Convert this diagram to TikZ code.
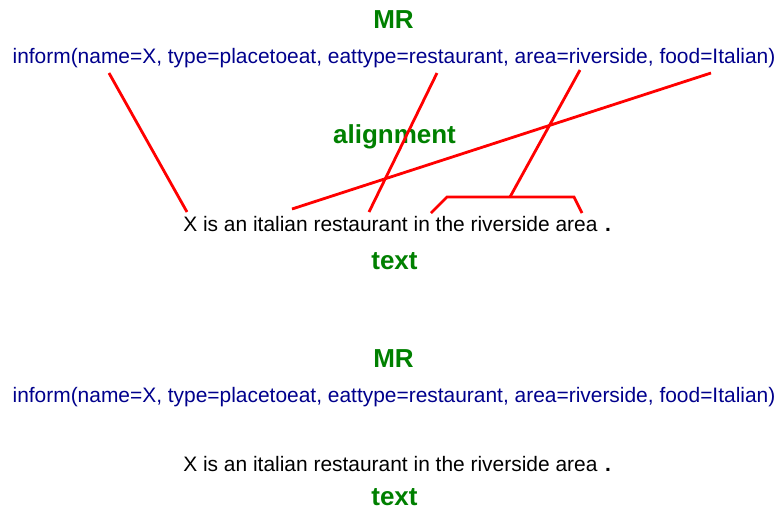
\documentclass[tikz,border=0pt]{standalone}
\usepackage{fontspec}
\setmainfont{Liberation Sans}
\definecolor{mrblue}{RGB}{0,0,140}
\definecolor{mrgreen}{RGB}{0,128,0}

\begin{document}
\begin{tikzpicture}[x=0.75pt,y=-0.75pt,
  title/.style={font=\bfseries\fontsize{19.5}{22}\selectfont,text=mrgreen,inner sep=0pt,anchor=base},
  mr node/.style={font=\fontsize{15.7}{18}\selectfont,text=mrblue,inner sep=0pt,anchor=base},
  word node/.style={font=\fontsize{15.7}{18}\selectfont,inner sep=0pt,anchor=base west},
  dot node/.style={font=\bfseries\fontsize{15.7}{18}\selectfont,inner sep=0pt,anchor=base},
  link/.style={red,line width=2.1pt}]
  \useasboundingbox (0,0) rectangle (779,512);

  \node[title] (mr1) at (393.5,28) {MR};
  \node[mr node] (inform1) at (394,63.5) {inform(name=X, type=placetoeat, eattype=restaurant, area=riverside, food=Italian)};
  \node[title] (alignment) at (394.5,143) {alignment};
  \node[word node] (sent1) at (183,231) {X is an italian restaurant in the riverside area};
  \node[dot node] (dot1) at (608,231) {.};
  \node[title] (text1) at (394.5,269) {text};

  \coordinate (nameX) at (109,73);
  \coordinate (eattype) at (437,73);
  \coordinate (area) at (580,70);
  \coordinate (food) at (711,73);
  \coordinate (wordX) at (187,212);
  \coordinate (wordrest) at (369,212);
  \coordinate (worditalian) at (292,209);
  \coordinate (brace mid) at (510,197);
  \coordinate (brace l) at (431,213);
  \coordinate (brace lc) at (447,197);
  \coordinate (brace rc) at (574,197);
  \coordinate (brace r) at (582,213);

  \path[link]
  (nameX) edge (wordX)
  (eattype) edge (wordrest)
  (area) edge (brace mid)
  (food) edge (worditalian);
  \draw[link] (brace l) -- (brace lc) -- (brace rc) -- (brace r);

  \node[title] (mr2) at (393.5,367) {MR};
  \node[mr node] (inform2) at (394,402) {inform(name=X, type=placetoeat, eattype=restaurant, area=riverside, food=Italian)};
  \node[word node] (sent2) at (183,471) {X is an italian restaurant in the riverside area};
  \node[dot node] (dot2) at (608,471) {.};
  \node[title] (text2) at (394.5,505) {text};
\end{tikzpicture}
\end{document}
